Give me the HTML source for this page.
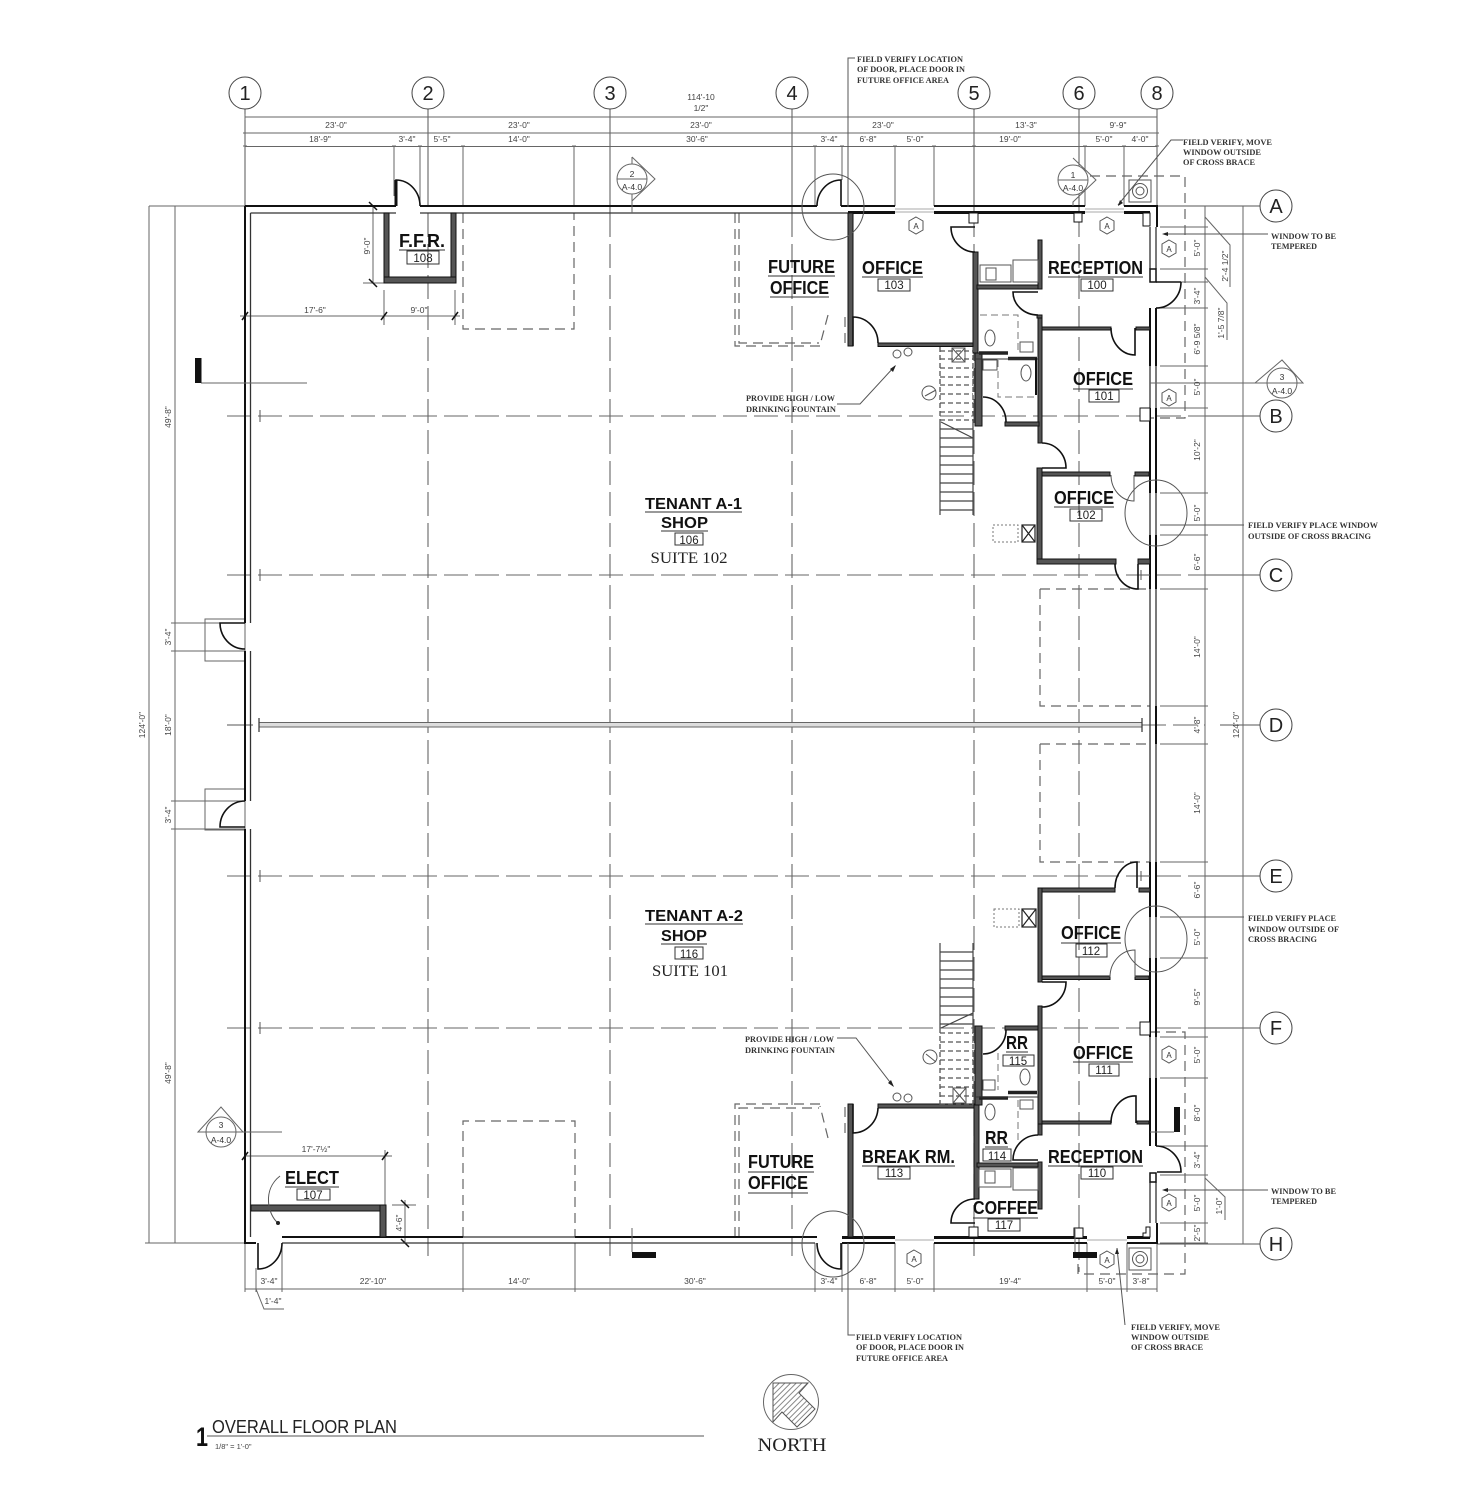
<!DOCTYPE html>
<html><head><meta charset="utf-8"><title>Overall Floor Plan</title>
<style>
html,body{margin:0;padding:0;background:#fff}
svg{display:block;filter:blur(.35px)}
text{font-family:"Liberation Sans",sans-serif;fill:#222}
.d{font-size:8.5px;text-anchor:middle;fill:#444}
.n{font-family:"Liberation Serif",serif;font-size:8.5px;fill:#333;font-weight:bold}
.r{font-weight:bold;font-size:18.5px;fill:#111}
.b{font-size:11.5px;text-anchor:middle;fill:#222}
.g{font-size:20px;text-anchor:middle;fill:#222}
.h{font-size:8px;text-anchor:middle;fill:#333}
.s{font-size:8.5px;text-anchor:middle;fill:#333}
</style></head><body>
<svg xmlns="http://www.w3.org/2000/svg" width="1464" height="1500" viewBox="0 0 1464 1500">
<defs>
<pattern id="hat" width="4" height="4" patternUnits="userSpaceOnUse" patternTransform="rotate(-45)"><rect width="4" height="4" fill="#fff"/><line x1="0" y1="1" x2="4" y2="1" stroke="#888" stroke-width="1"/></pattern>
</defs>
<rect width="1464" height="1500" fill="#fff"/>

<!-- column grid -->
<g stroke="#555" stroke-width="1" fill="none">
<path d="M245 109V206M428 109V206M610 109V213M792 109V213M974 109V213M1079 109V213M1157 109V206"/>
</g>
<g stroke="#666" stroke-width="1.100" fill="none" stroke-dasharray="24 7">
<path d="M428 213V1256M610 213V1256M792 213V1256M974 213V1256M1079 213V1272"/>
</g>
<!-- row grid -->
<g stroke="#666" stroke-width="1.100" fill="none" stroke-dasharray="24 7">
<path d="M227 416H1205M227 575H1205M227 876H1205M227 1028H1205M1142 725H1205"/>
</g>
<g stroke="#555" stroke-width="1" fill="none">
<path d="M1205 416H1260M1205 575H1260M1205 876H1260M1205 1028H1260M1220 725H1260M1157 206H1260M1157 1244H1260M227 725H253M260 410V422M260 569V581M260 870V882M260 1022V1034"/>
</g>

<!-- grid bubbles -->
<g fill="#fff" stroke="#444" stroke-width="1">
<circle cx="245" cy="93" r="16"/><circle cx="428" cy="93" r="16"/><circle cx="610" cy="93" r="16"/><circle cx="792" cy="93" r="16"/><circle cx="974" cy="93" r="16"/><circle cx="1079" cy="93" r="16"/><circle cx="1157" cy="93" r="16"/>
<circle cx="1276" cy="206" r="16"/><circle cx="1276" cy="416" r="16"/><circle cx="1276" cy="575" r="16"/><circle cx="1276" cy="725" r="16"/><circle cx="1276" cy="876" r="16"/><circle cx="1276" cy="1028" r="16"/><circle cx="1276" cy="1244" r="16"/>
</g>
<g class="g">
<text class="g" x="245" y="100">1</text><text class="g" x="428" y="100">2</text><text class="g" x="610" y="100">3</text><text class="g" x="792" y="100">4</text><text class="g" x="974" y="100">5</text><text class="g" x="1079" y="100">6</text><text class="g" x="1157" y="100">8</text>
<text class="g" x="1276" y="213">A</text><text class="g" x="1276" y="423">B</text><text class="g" x="1276" y="582">C</text><text class="g" x="1276" y="732">D</text><text class="g" x="1276" y="883">E</text><text class="g" x="1276" y="1035">F</text><text class="g" x="1276" y="1251">H</text>
</g>

<!-- top dimensions -->
<g stroke="#666" stroke-width="1" fill="none">
<path d="M245 117H1157M245 133H1157M245 146.500H1157"/>
<path d="M394 146V196M420 146V206M463 146V206M574 146V206M815 146V206M842 146V180M895 146V206M934 146V206M1085 146V206M1124 146V206"/>
<path d="M245 114V120M243 133H247M243 146H247M426 133H430M608 133H612M790 133H794M972 133H976M1077 133H1081M1155 133H1159M392 146H396M418 146H422M461 146H465M572 146H576M813 146H817M840 146H844M893 146H897M932 146H936M972 146H976M1083 146H1087M1122 146H1126M1155 146H1159"/>
<!-- left dims -->
<path d="M149 206V1243M175 206V1243M149 206H250M145 1243H245M171 623H245M171 651H245M171 801H245M171 829H245"/>
<!-- right dims -->
<path d="M1205 206V1243M1243 206V1244"/>
<path d="M1160 227H1208M1160 269H1208M1160 282H1208M1160 308H1208M1160 366H1208M1160 408H1208M1160 493H1208M1160 535H1208M1160 589H1208M1160 706H1208M1160 744H1208M1160 862H1208M1160 917H1208M1160 958H1208M1160 1037H1208M1160 1078H1208M1160 1146H1208M1160 1175H1208M1160 1223H1208M1160 1243H1208"/>
<path d="M1205 217L1230 245V287M1205 277L1227 303V340M1205 1178L1225 1197V1220"/>
<!-- bottom dims -->
<path d="M245 1289H1157"/>
<path d="M245 1243V1292M256 1268V1292M282 1243V1292M463 1243V1292M575 1243V1292M815 1243V1292M842 1243V1292M895 1243V1292M934 1243V1292M1087 1243V1292M1127 1243V1292M1157 1243V1292"/>
<path d="M256 1289L264 1309H284"/>
<!-- FFR dims -->
<path d="M373 206V283M363 283H384M240 316H460M384 290V325M455 290V325M245 1156H392M385 1150V1205M405 1200V1244M392 1205H416"/>
<path d="M369 202L377 210M369 279L377 287M242 320L248 312M381 320L387 312M452 320L458 312M242 1160L248 1152M382 1160L388 1152M401 1200L409 1208M401 1239L409 1247" stroke="#111" stroke-width="1.5"/>
</g>

<!-- dashed future outlines -->
<g fill="none" stroke="#666" stroke-width="1.2" stroke-dasharray="10 6">
<path d="M463 213V329H574V213"/>
<path d="M463 1237V1121H575V1237"/>
<path d="M735 213V346H822"/><path d="M739 213V343H819"/>
<path d="M845 317V346M828 315L820 345"/>
<path d="M735 1237V1104H822"/><path d="M739 1237V1108H819"/>
<path d="M845 1133V1104M828 1138L820 1106"/>
<path d="M1040 589H1150M1040 589V706H1150"/>
<path d="M1040 744H1150M1040 744V862H1150"/>
<path d="M1090 176H1185V418H1150"/>
<path d="M1150 1032H1185V1274H1078V1258"/>
</g>

<!-- tenant demising wall -->
<rect x="259" y="722.500" width="883" height="4.500" fill="#ddd" stroke="#666" stroke-width="1"/>
<path d="M259 718V732M1142 718V732" stroke="#333" stroke-width="1.200"/>

<!-- left-wall door boxes -->
<g fill="none" stroke="#666" stroke-width="1"><rect x="205" y="619" width="40" height="42"/><rect x="205" y="789" width="40" height="41"/></g>

<!-- exterior walls -->
<g fill="none" stroke="#111" stroke-width="2">
<path d="M245 206H396M420 206H817M245 206V623M245 651V801M245 829V1243H256M282 1237H463M575 1237H817M842 1243H895M934 1243H1087M1127 1243H1157V1223"/>
<path d="M841 206H895M934 206H1085M1124 206H1157V227"/>
</g>
<g fill="none" stroke="#333" stroke-width="1.300">
<path d="M250.500 213V623M250.500 651V801M250.500 829V1237M250.500 213H396M420 213H848"/>
<path d="M282 1243H815M463 1237H575"/>
<path d="M1150 589V706M1156 589V706M1150 706V744M1150 744V862M1156 744V862"/>
<path d="M1150 227V269M1150 366V408M1150 493V535M1150 917V958M1150 1037V1078M1150 1182V1223M1156 227V269M1156 366V408M1156 493V535M1156 917V958M1156 1037V1078M1156 1182V1223"/>
</g>
<g fill="none" stroke="#aaa" stroke-width="1">
<path d="M895 209H934M895 212H934M1085 209H1124M1085 212H1124M895 1240H934M1087 1240H1127"/>
</g>
<g fill="none" stroke="#111" stroke-width="3">
<path d="M848 212.500H895M934 212.500H1085M1124 212.500H1150M842 1237.500H895M934 1237.500H1087M1127 1237.500H1150"/>
</g>
<g fill="none" stroke="#111" stroke-width="2">
<path d="M1150 308V366M1156 308V366M1150 408V493M1156 408V493M1150 535V589M1156 535V589M1156 706V744M1150 862V917M1156 862V917M1150 958V1037M1156 958V1037M1150 1078V1146M1156 1078V1146"/>
</g>
<path d="M1150 269V282H1156V269Z M1150 1173V1182H1156V1173Z" fill="#fff" stroke="#111" stroke-width="1.500"/>

<!-- interior walls -->
<g fill="#555" stroke="#111" stroke-width="1">
<rect x="384" y="213" width="5" height="70"/><rect x="451" y="213" width="5" height="70"/><rect x="384" y="277" width="72" height="6"/>
<rect x="251" y="1205" width="134" height="6"/><rect x="380" y="1205" width="6" height="32"/>
<rect x="848" y="213" width="5" height="133"/><rect x="878" y="343" width="97" height="3.500"/>
<rect x="973" y="252" width="5" height="101"/><rect x="969" y="213" width="9" height="10" fill="#fff"/>
<rect x="977" y="285" width="63" height="4"/><rect x="1038" y="240" width="4" height="49"/>
<rect x="1038" y="315" width="4" height="128"/>
<rect x="1042" y="327" width="69" height="3"/><rect x="1136" y="327" width="14" height="3"/>
<rect x="1042" y="472" width="68" height="4"/><rect x="1135" y="472" width="14" height="4"/>
<rect x="1037" y="468" width="5" height="96"/><rect x="1037" y="559" width="79" height="5"/><rect x="1138" y="559" width="12" height="5"/>
<rect x="975" y="353" width="7" height="73"/><rect x="1005" y="422" width="34" height="4"/>
<rect x="1037" y="315" width="5" height="3"/>
<rect x="1140" y="408" width="10" height="13" fill="#fff"/>
<rect x="1074" y="213" width="8" height="9" fill="#fff"/>
<path d="M1143 213H1150V226H1143V220Z" fill="#fff"/>
<!-- lower -->
<rect x="1038" y="888" width="77" height="4"/><rect x="1139" y="888" width="11" height="4"/>
<rect x="1038" y="888" width="4" height="94"/><rect x="1042" y="976" width="68" height="3.500"/><rect x="1135" y="976" width="14" height="3.500"/>
<rect x="1038" y="1006" width="4" height="119"/>
<rect x="1005" y="1026" width="33" height="4"/><rect x="975" y="1026" width="7" height="79"/>
<rect x="848" y="1104" width="5" height="133"/><rect x="878" y="1104" width="97" height="4"/>
<rect x="974" y="1105" width="5" height="94"/><rect x="969" y="1227" width="9" height="10" fill="#fff"/>
<rect x="1042" y="1121" width="69" height="3"/><rect x="1137" y="1121" width="12" height="3"/>
<rect x="977" y="1163" width="63" height="4"/><rect x="1038" y="1124" width="4" height="11"/><rect x="1038" y="1162" width="4" height="47"/>
<rect x="1140" y="1022" width="10" height="13" fill="#fff"/>
<rect x="1074" y="1228" width="9" height="10" fill="#fff"/>
<path d="M1143 1237H1150V1227H1146V1233H1143Z" fill="#fff"/>
</g>
<!-- bathroom partition heavy lines -->
<path d="M979 353H1008M1008 358.500H1037M979 1098H1008M1008 1092.500H1037" stroke="#222" stroke-width="3.500"/>
<path d="M975 359H1038M975 1097H1038" stroke="#333" stroke-width="1"/>
<path d="M1036 358V395" stroke="#111" stroke-width="2"/>

<!-- door swings -->
<g fill="none" stroke="#111" stroke-width="1.600">
<path d="M396 206V180A24 26 0 0 1 420 206"/><path d="M396 206V180" stroke-width="3"/>
<path d="M245 623H220A25 26 0 0 0 245 649"/><path d="M245 827H220A25 26 0 0 1 245 801"/>
<path d="M258 1243V1269A24 26 0 0 0 282 1243"/>
<path d="M841 206V180A24 26 0 0 0 817 206"/><path d="M841 1243V1269A24 26 0 0 1 817 1243"/>
<path d="M853 346V317A25 26 0 0 1 878 343"/><path d="M853 1104V1133A25 26 0 0 0 878 1108"/>
<path d="M975 227H951A24 25 0 0 0 975 252"/>
<path d="M1038 292H1013A25 23 0 0 0 1038 315"/>
<path d="M1135 328V355A24 27 0 0 1 1111 328"/>
<path d="M1042 443A24 25 0 0 1 1066 468H1042"/>
<path d="M1181 282H1156M1181 282A25 26 0 0 1 1156 308"/>
<path d="M1138 564V589A23 25 0 0 1 1115 564"/>
<path d="M1137 888V862A22 26 0 0 0 1115 888"/>
<path d="M1042 982H1066A24 25 0 0 1 1042 1007"/>
<path d="M983 397A23 25 0 0 1 1006 422"/>
<path d="M983 1054A23 24 0 0 0 1006 1030"/>
<path d="M1136 1123V1096A24 27 0 0 0 1111 1123"/>
<path d="M1038 1135A25 25 0 0 0 1013 1160H1038"/>
<path d="M1156 1146A25 26 0 0 1 1181 1172H1157"/>
<path d="M975 1199A24 24 0 0 0 951 1223H975"/>
</g>
<g fill="none" stroke="#555" stroke-width="1">
<path d="M1134 475V501A23 26 0 0 1 1111 475"/><path d="M1135 977V950A25 27 0 0 0 1110 977"/>
<path d="M1141 570V580M1141 575H1150M1141 871V881M1141 876H1150"/>
</g>

<!-- big circles -->
<g fill="none" stroke="#555" stroke-width="1"><ellipse cx="833" cy="207" rx="31" ry="33"/><ellipse cx="833" cy="1244" rx="31" ry="33"/><ellipse cx="1156" cy="513" rx="31" ry="33"/><ellipse cx="1156" cy="939" rx="31" ry="33"/></g>

<!-- stairs -->
<g fill="none" stroke="#444" stroke-width="1.200">
<path d="M941 422L973 438M973 1013L941 1028"/>
<path d="M940 420V515M973 420V515M940 943V1028M973 943V1028"/>
<path d="M940 429H973M940 438H973M940 447H973M940 456H973M940 465H973M940 474H973M940 483H973M940 492H973M940 501H973M940 510H973"/>
<path d="M940 952H973M940 961H973M940 970H973M940 979H973M940 988H973M940 997H973M940 1006H973M940 1015H973M940 1024H973"/>
</g>
<g fill="none" stroke="#555" stroke-width="1.300" stroke-dasharray="5 3">
<path d="M940 347V420M973 347V420M940 1028V1105M973 1028V1105"/>
<path d="M940 351H973M940 359H973M940 368H973M940 377H973M940 385H973M940 394H973M940 403H973M940 412H973M940 420H973"/>
<path d="M940 1033H973M940 1042H973M940 1051H973M940 1060H973M940 1069H973M940 1078H973M940 1087H973M940 1096H973M940 1104H973"/>
</g>
<g fill="none" stroke="#555" stroke-width="1">
<rect x="952" y="348" width="13" height="14"/><path d="M952 348L965 362M965 348L952 362"/>
<rect x="953" y="1088" width="13" height="15"/><path d="M953 1088L966 1103M966 1088L953 1103"/>
<circle cx="929" cy="393" r="7"/><path d="M925 396L936 390"/><circle cx="930" cy="1057" r="7"/><path d="M926 1054L936 1062"/>
</g>

<!-- bath fixtures -->
<g fill="#fff" stroke="#555" stroke-width="1">
<ellipse cx="990" cy="338" rx="5" ry="8"/><ellipse cx="1026" cy="373" rx="5" ry="8"/><rect x="983" y="360" width="14" height="10"/><rect x="1020" y="342" width="13" height="10"/>
<ellipse cx="1025" cy="1077" rx="5" ry="8"/><ellipse cx="990" cy="1112" rx="5" ry="8"/><rect x="983" y="1080" width="12" height="10"/><rect x="1020" y="1100" width="13" height="9"/>
<rect x="980" y="265" width="31" height="17" fill="none"/><rect x="986" y="268" width="10" height="12" fill="none"/><rect x="1013" y="260" width="25" height="22" fill="none"/>
<rect x="979" y="1169" width="32" height="18" fill="none"/><rect x="985" y="1171" width="10" height="12" fill="none"/><rect x="1013" y="1168" width="25" height="22" fill="none"/>
<circle cx="897" cy="354" r="4"/><circle cx="908" cy="352" r="4"/><circle cx="897" cy="1097" r="4"/><circle cx="908" cy="1098" r="4"/>
</g>
<g fill="none" stroke="#777" stroke-width="1" stroke-dasharray="7 4">
<path d="M980 315H1018V352M998 360V397H1037M998 1053V1090M1018 1100V1140"/>
</g>

<!-- stacks -->
<g fill="none" stroke="#222" stroke-width="1.200">
<rect x="1022" y="525" width="13" height="17"/><path d="M1022 525L1035 542M1035 525L1022 542"/>
<rect x="1022" y="909" width="14" height="18"/><path d="M1022 909L1036 927M1036 909L1022 927"/>
</g>
<g fill="none" stroke="#777" stroke-width="1" stroke-dasharray="2 2"><rect x="993" y="525" width="25" height="17"/><rect x="994" y="909" width="25" height="18"/></g>

<!-- AC units -->
<g fill="#fff" stroke="#555" stroke-width="1">
<rect x="1129" y="180" width="22" height="22"/><circle cx="1140" cy="191" r="7.500"/><circle cx="1140" cy="191" r="4"/>
<rect x="1129" y="1248" width="22" height="22"/><circle cx="1140" cy="1259" r="7.500"/><circle cx="1140" cy="1259" r="4"/>
</g>

<!-- section symbols -->
<g fill="none" stroke="#666" stroke-width="1">
<path d="M632 157L655 179L632 201M632 157V213"/><circle cx="632" cy="179" r="15" fill="#fff"/><path d="M617 179H647"/>
<path d="M1073 158L1096 180L1073 202V206"/><circle cx="1073" cy="180" r="15" fill="#fff"/><path d="M1058 180H1088"/>
<path d="M1255 383L1282 360L1303 383ZM1150 383H1262"/><circle cx="1282" cy="383" r="15" fill="#fff"/><path d="M1267 383H1297"/>
<path d="M198 1132L221 1107L243 1132ZM243 1132H282"/><circle cx="221" cy="1132" r="15" fill="#fff"/><path d="M206 1132H236"/>
<path d="M201 383H307"/><path d="M1150 1132H1174M632 1228V1252M1075 1228V1252"/>
</g>
<rect x="195" y="358" width="6.500" height="25" fill="#111"/>
<rect x="632" y="1252" width="24" height="6" fill="#111"/>
<rect x="1073" y="1252" width="24" height="6" fill="#111"/>
<rect x="1174" y="1107" width="6" height="25" fill="#111"/>
<text class="s" x="632" y="177">2</text><text class="s" x="632" y="190">A-4.0</text>
<text class="s" x="1073" y="178">1</text><text class="s" x="1073" y="191">A-4.0</text>
<text class="s" x="1282" y="380">3</text><text class="s" x="1282" y="394">A-4.0</text>
<text class="s" x="221" y="1128">3</text><text class="s" x="221" y="1143">A-4.0</text>

<!-- hex tags -->
<g fill="#fff" stroke="#555" stroke-width="1">
<path d="M916 217L923 221V230L916 234L909 230V221Z"/>
<path d="M1107 217L1114 221V230L1107 234L1100 230V221Z"/>
<path d="M1169 240L1176 244V253L1169 257L1162 253V244Z"/>
<path d="M1169 389L1176 393V402L1169 406L1162 402V393Z"/>
<path d="M914 1250L921 1254V1263L914 1267L907 1263V1254Z"/>
<path d="M1107 1251L1114 1255V1264L1107 1268L1100 1264V1255Z"/>
<path d="M1169 1046L1176 1050V1059L1169 1063L1162 1059V1050Z"/>
<path d="M1169 1194L1176 1198V1207L1169 1211L1162 1207V1198Z"/>
</g>
<g>
<text class="h" x="916" y="229">A</text><text class="h" x="1107" y="229">A</text><text class="h" x="1169" y="252">A</text><text class="h" x="1169" y="401">A</text><text class="h" x="914" y="1262">A</text><text class="h" x="1107" y="1263">A</text><text class="h" x="1169" y="1058">A</text><text class="h" x="1169" y="1206">A</text>
</g>

<!-- leaders -->
<g fill="none" stroke="#555" stroke-width="1">
<path d="M855 58H848V207M848 1243V1335H855"/>
<path d="M1183 140H1171L1118 205"/>
<path d="M1164 234H1268M1164 1190H1268M1160 525H1244M1160 917H1244"/>
<path d="M837 404H860L895 366M837 1038H856L893 1086"/>
<path d="M1125 1325L1117 1248"/>
<path d="M280 1176C262 1190 268 1215 278 1223"/>
</g>
<g fill="#222">
<path d="M1118 206L1120 200L1123 203Z M1162 234L1168 232V236Z M1162 1190L1168 1188V1192Z M896 365L890 369L893 372Z M894 1087L888 1083L891 1080Z M1117 1248L1115 1254L1119 1254Z"/>
<circle cx="278" cy="1223" r="2"/>
</g>

<!-- dim text -->
<g>
<text class="d" x="701" y="100">114'-10</text><text class="d" x="701" y="111">1/2"</text>
<text class="d" x="336" y="128">23'-0"</text><text class="d" x="519" y="128">23'-0"</text><text class="d" x="701" y="128">23'-0"</text><text class="d" x="883" y="128">23'-0"</text><text class="d" x="1026" y="128">13'-3"</text><text class="d" x="1118" y="128">9'-9"</text>
<text class="d" x="320" y="142">18'-9"</text><text class="d" x="407" y="142">3'-4"</text><text class="d" x="442" y="142">5'-5"</text><text class="d" x="519" y="142">14'-0"</text><text class="d" x="697" y="142">30'-6"</text><text class="d" x="829" y="142">3'-4"</text><text class="d" x="868" y="142">6'-8"</text><text class="d" x="915" y="142">5'-0"</text><text class="d" x="1010" y="142">19'-0"</text><text class="d" x="1104" y="142">5'-0"</text><text class="d" x="1140" y="142">4'-0"</text>
<text class="d" x="269" y="1284">3'-4"</text><text class="d" x="373" y="1284">22'-10"</text><text class="d" x="519" y="1284">14'-0"</text><text class="d" x="695" y="1284">30'-6"</text><text class="d" x="829" y="1284">3'-4"</text><text class="d" x="868" y="1284">6'-8"</text><text class="d" x="915" y="1284">5'-0"</text><text class="d" x="1010" y="1284">19'-4"</text><text class="d" x="1107" y="1284">5'-0"</text><text class="d" x="1141" y="1284">3'-8"</text>
<text class="d" x="273" y="1304">1'-4"</text>
<text class="d" x="315" y="313">17'-6"</text><text class="d" x="419" y="313">9'-0"</text><text class="d" x="316" y="1152">17'-7½"</text>
<text class="d" transform="rotate(-90 370 246)" x="370" y="246">9'-0"</text>
<text class="d" transform="rotate(-90 402 1223)" x="402" y="1223">4'-6"</text>
<text class="d" transform="rotate(-90 145 725)" x="145" y="725">124'-0"</text>
<text class="d" transform="rotate(-90 171 417)" x="171" y="417">49'-8"</text>
<text class="d" transform="rotate(-90 171 637)" x="171" y="637">3'-4"</text>
<text class="d" transform="rotate(-90 171 725)" x="171" y="725">18'-0"</text>
<text class="d" transform="rotate(-90 171 815)" x="171" y="815">3'-4"</text>
<text class="d" transform="rotate(-90 171 1073)" x="171" y="1073">49'-8"</text>
<text class="d" transform="rotate(-90 1239 725)" x="1239" y="725">124'-0"</text>
<text class="d" transform="rotate(-90 1200 248)" x="1200" y="248">5'-0"</text>
<text class="d" transform="rotate(-90 1200 296)" x="1200" y="296">3'-4"</text>
<text class="d" transform="rotate(-90 1200 339)" x="1200" y="339">6'-9 5/8"</text>
<text class="d" transform="rotate(-90 1200 387)" x="1200" y="387">5'-0"</text>
<text class="d" transform="rotate(-90 1200 450)" x="1200" y="450">10'-2"</text>
<text class="d" transform="rotate(-90 1200 513)" x="1200" y="513">5'-0"</text>
<text class="d" transform="rotate(-90 1200 562)" x="1200" y="562">6'-6"</text>
<text class="d" transform="rotate(-90 1200 647)" x="1200" y="647">14'-0"</text>
<text class="d" transform="rotate(-90 1200 725)" x="1200" y="725">4'-8"</text>
<text class="d" transform="rotate(-90 1200 803)" x="1200" y="803">14'-0"</text>
<text class="d" transform="rotate(-90 1200 890)" x="1200" y="890">6'-6"</text>
<text class="d" transform="rotate(-90 1200 937)" x="1200" y="937">5'-0"</text>
<text class="d" transform="rotate(-90 1200 997)" x="1200" y="997">9'-5"</text>
<text class="d" transform="rotate(-90 1200 1055)" x="1200" y="1055">5'-0"</text>
<text class="d" transform="rotate(-90 1200 1113)" x="1200" y="1113">8'-0"</text>
<text class="d" transform="rotate(-90 1200 1160)" x="1200" y="1160">3'-4"</text>
<text class="d" transform="rotate(-90 1200 1203)" x="1200" y="1203">5'-0"</text>
<text class="d" transform="rotate(-90 1200 1233)" x="1200" y="1233">2'-5"</text>
<text class="d" transform="rotate(-90 1228 266)" x="1228" y="266">2'-4 1/2"</text>
<text class="d" transform="rotate(-90 1224 323)" x="1224" y="323">1'-5 7/8"</text>
<text class="d" transform="rotate(-90 1222 1206)" x="1222" y="1206">1'-0"</text>
</g>

<!-- notes -->
<g>
<text class="n" x="857" y="62" textLength="106" lengthAdjust="spacingAndGlyphs">FIELD VERIFY LOCATION</text>
<text class="n" x="857" y="72" textLength="108" lengthAdjust="spacingAndGlyphs">OF DOOR, PLACE DOOR IN</text>
<text class="n" x="857" y="83" textLength="92" lengthAdjust="spacingAndGlyphs">FUTURE OFFICE AREA</text>
<text class="n" x="856" y="1340" textLength="106" lengthAdjust="spacingAndGlyphs">FIELD VERIFY LOCATION</text>
<text class="n" x="856" y="1350" textLength="108" lengthAdjust="spacingAndGlyphs">OF DOOR, PLACE DOOR IN</text>
<text class="n" x="856" y="1361" textLength="92" lengthAdjust="spacingAndGlyphs">FUTURE OFFICE AREA</text>
<text class="n" x="1183" y="145" textLength="89" lengthAdjust="spacingAndGlyphs">FIELD VERIFY, MOVE</text>
<text class="n" x="1183" y="155" textLength="78" lengthAdjust="spacingAndGlyphs">WINDOW OUTSIDE</text>
<text class="n" x="1183" y="165" textLength="72" lengthAdjust="spacingAndGlyphs">OF CROSS BRACE</text>
<text class="n" x="1271" y="239" textLength="65" lengthAdjust="spacingAndGlyphs">WINDOW TO BE</text>
<text class="n" x="1271" y="249" textLength="46" lengthAdjust="spacingAndGlyphs">TEMPERED</text>
<text class="n" x="1271" y="1194" textLength="65" lengthAdjust="spacingAndGlyphs">WINDOW TO BE</text>
<text class="n" x="1271" y="1204" textLength="46" lengthAdjust="spacingAndGlyphs">TEMPERED</text>
<text class="n" x="1248" y="528" textLength="130" lengthAdjust="spacingAndGlyphs">FIELD VERIFY PLACE WINDOW</text>
<text class="n" x="1248" y="539" textLength="123" lengthAdjust="spacingAndGlyphs">OUTSIDE OF CROSS BRACING</text>
<text class="n" x="1248" y="921" textLength="88" lengthAdjust="spacingAndGlyphs">FIELD VERIFY PLACE</text>
<text class="n" x="1248" y="932" textLength="91" lengthAdjust="spacingAndGlyphs">WINDOW OUTSIDE OF</text>
<text class="n" x="1248" y="942" textLength="69" lengthAdjust="spacingAndGlyphs">CROSS BRACING</text>
<text class="n" x="1131" y="1330" textLength="89" lengthAdjust="spacingAndGlyphs">FIELD VERIFY, MOVE</text>
<text class="n" x="1131" y="1340" textLength="78" lengthAdjust="spacingAndGlyphs">WINDOW OUTSIDE</text>
<text class="n" x="1131" y="1350" textLength="72" lengthAdjust="spacingAndGlyphs">OF CROSS BRACE</text>
<text class="n" x="746" y="401" textLength="89" lengthAdjust="spacingAndGlyphs">PROVIDE HIGH / LOW</text>
<text class="n" x="746" y="412" textLength="90" lengthAdjust="spacingAndGlyphs">DRINKING FOUNTAIN</text>
<text class="n" x="745" y="1042" textLength="89" lengthAdjust="spacingAndGlyphs">PROVIDE HIGH / LOW</text>
<text class="n" x="745" y="1053" textLength="90" lengthAdjust="spacingAndGlyphs">DRINKING FOUNTAIN</text>
</g>

<!-- room labels -->
<g>
<text class="r" x="768" y="273" textLength="67" lengthAdjust="spacingAndGlyphs">FUTURE</text>
<text class="r" x="770" y="294" textLength="59" lengthAdjust="spacingAndGlyphs">OFFICE</text>
<text class="r" x="862" y="274" textLength="61" lengthAdjust="spacingAndGlyphs">OFFICE</text>
<text class="r" x="1048" y="274" textLength="95" lengthAdjust="spacingAndGlyphs">RECEPTION</text>
<text class="r" x="1073" y="385" textLength="60" lengthAdjust="spacingAndGlyphs">OFFICE</text>
<text class="r" x="1054" y="504" textLength="60" lengthAdjust="spacingAndGlyphs">OFFICE</text>
<text class="r" x="399" y="247" textLength="46" lengthAdjust="spacingAndGlyphs">F.F.R.</text>
<text class="r" x="285" y="1184" textLength="54" lengthAdjust="spacingAndGlyphs">ELECT</text>
<text class="r" x="1061" y="939" textLength="60" lengthAdjust="spacingAndGlyphs">OFFICE</text>
<text class="r" x="1006" y="1049" textLength="22" lengthAdjust="spacingAndGlyphs">RR</text>
<text class="r" x="1073" y="1059" textLength="60" lengthAdjust="spacingAndGlyphs">OFFICE</text>
<text class="r" x="985" y="1144" textLength="23" lengthAdjust="spacingAndGlyphs">RR</text>
<text class="r" x="862" y="1163" textLength="93" lengthAdjust="spacingAndGlyphs">BREAK RM.</text>
<text class="r" x="1048" y="1163" textLength="95" lengthAdjust="spacingAndGlyphs">RECEPTION</text>
<text class="r" x="748" y="1168" textLength="66" lengthAdjust="spacingAndGlyphs">FUTURE</text>
<text class="r" x="748" y="1189" textLength="60" lengthAdjust="spacingAndGlyphs">OFFICE</text>
<text class="r" x="973" y="1214" textLength="65" lengthAdjust="spacingAndGlyphs">COFFEE</text>
<text class="r" x="645" y="509" textLength="97" lengthAdjust="spacingAndGlyphs" style="font-size:16px">TENANT A-1</text>
<text class="r" x="661" y="528" textLength="47" lengthAdjust="spacingAndGlyphs" style="font-size:16px">SHOP</text>
<text class="r" x="645" y="921" textLength="98" lengthAdjust="spacingAndGlyphs" style="font-size:16px">TENANT A-2</text>
<text class="r" x="661" y="941" textLength="46" lengthAdjust="spacingAndGlyphs" style="font-size:16px">SHOP</text>
</g>
<g fill="none" stroke="#333" stroke-width="1">
<path d="M768 276H835M770 297H829M862 277H923M1048 277H1143M1073 389H1133M1054 507H1114M399 250H445M285 1187H339M1061 943H1121M1006 1052H1028M1073 1062H1133M985 1147H1008M862 1166H955M1048 1166H1143M748 1172H814M748 1193H808M973 1218H1038M645 512H742M661 531H708M645 924H743M661 944H707"/>
<rect x="878" y="279" width="32" height="12"/><rect x="1081" y="279" width="32" height="12"/><rect x="1089" y="390" width="30" height="12"/><rect x="1070" y="509" width="32" height="12"/>
<rect x="407" y="251" width="32" height="13"/><rect x="297" y="1189" width="33" height="11"/>
<rect x="675" y="533" width="28" height="12"/><rect x="675" y="947" width="28" height="12"/>
<rect x="1076" y="944" width="31" height="13"/><rect x="1003" y="1055" width="31" height="11"/><rect x="1089" y="1064" width="30" height="12"/><rect x="983" y="1149" width="28" height="12"/><rect x="878" y="1167" width="32" height="12"/><rect x="1081" y="1167" width="32" height="12"/><rect x="988" y="1219" width="32" height="12"/>
</g>
<g>
<text class="b" x="894" y="289">103</text><text class="b" x="1097" y="289">100</text><text class="b" x="1104" y="400">101</text><text class="b" x="1086" y="519">102</text>
<text class="b" x="423" y="262">108</text><text class="b" x="313" y="1199">107</text><text class="b" x="689" y="544">106</text><text class="b" x="689" y="958">116</text>
<text class="b" x="1091" y="955">112</text><text class="b" x="1018" y="1065">115</text><text class="b" x="1104" y="1074">111</text><text class="b" x="997" y="1160">114</text><text class="b" x="894" y="1177">113</text><text class="b" x="1097" y="1177">110</text><text class="b" x="1004" y="1229">117</text>
</g>
<text x="689" y="563" text-anchor="middle" textLength="77" lengthAdjust="spacingAndGlyphs" style="font-family:'Liberation Serif',serif;font-size:16px;fill:#222">SUITE 102</text>
<text x="690" y="976" text-anchor="middle" textLength="76" lengthAdjust="spacingAndGlyphs" style="font-family:'Liberation Serif',serif;font-size:16px;fill:#222">SUITE 101</text>

<!-- north -->
<circle cx="791" cy="1402" r="27.500" fill="#fff" stroke="#666" stroke-width="1"/>
<path d="M773 1383H808L799 1393L815 1409L797 1427L782 1412L773 1422Z" fill="url(#hat)" stroke="#555" stroke-width="1"/>
<text x="792" y="1451" text-anchor="middle" textLength="69" lengthAdjust="spacingAndGlyphs" style="font-family:'Liberation Serif',serif;font-size:19px;fill:#222">NORTH</text>

<!-- title -->
<text x="196" y="1446" textLength="12" lengthAdjust="spacingAndGlyphs" style="font-size:27px;font-weight:bold;fill:#111">1</text>
<text x="212" y="1433" textLength="185" lengthAdjust="spacingAndGlyphs" style="font-size:18.5px;fill:#222">OVERALL FLOOR PLAN</text>
<path d="M207 1436H704" stroke="#555" stroke-width="1"/>
<text x="215" y="1449" style="font-size:7.500px;fill:#444">1/8" = 1'-0"</text>
</svg>
</body></html>
